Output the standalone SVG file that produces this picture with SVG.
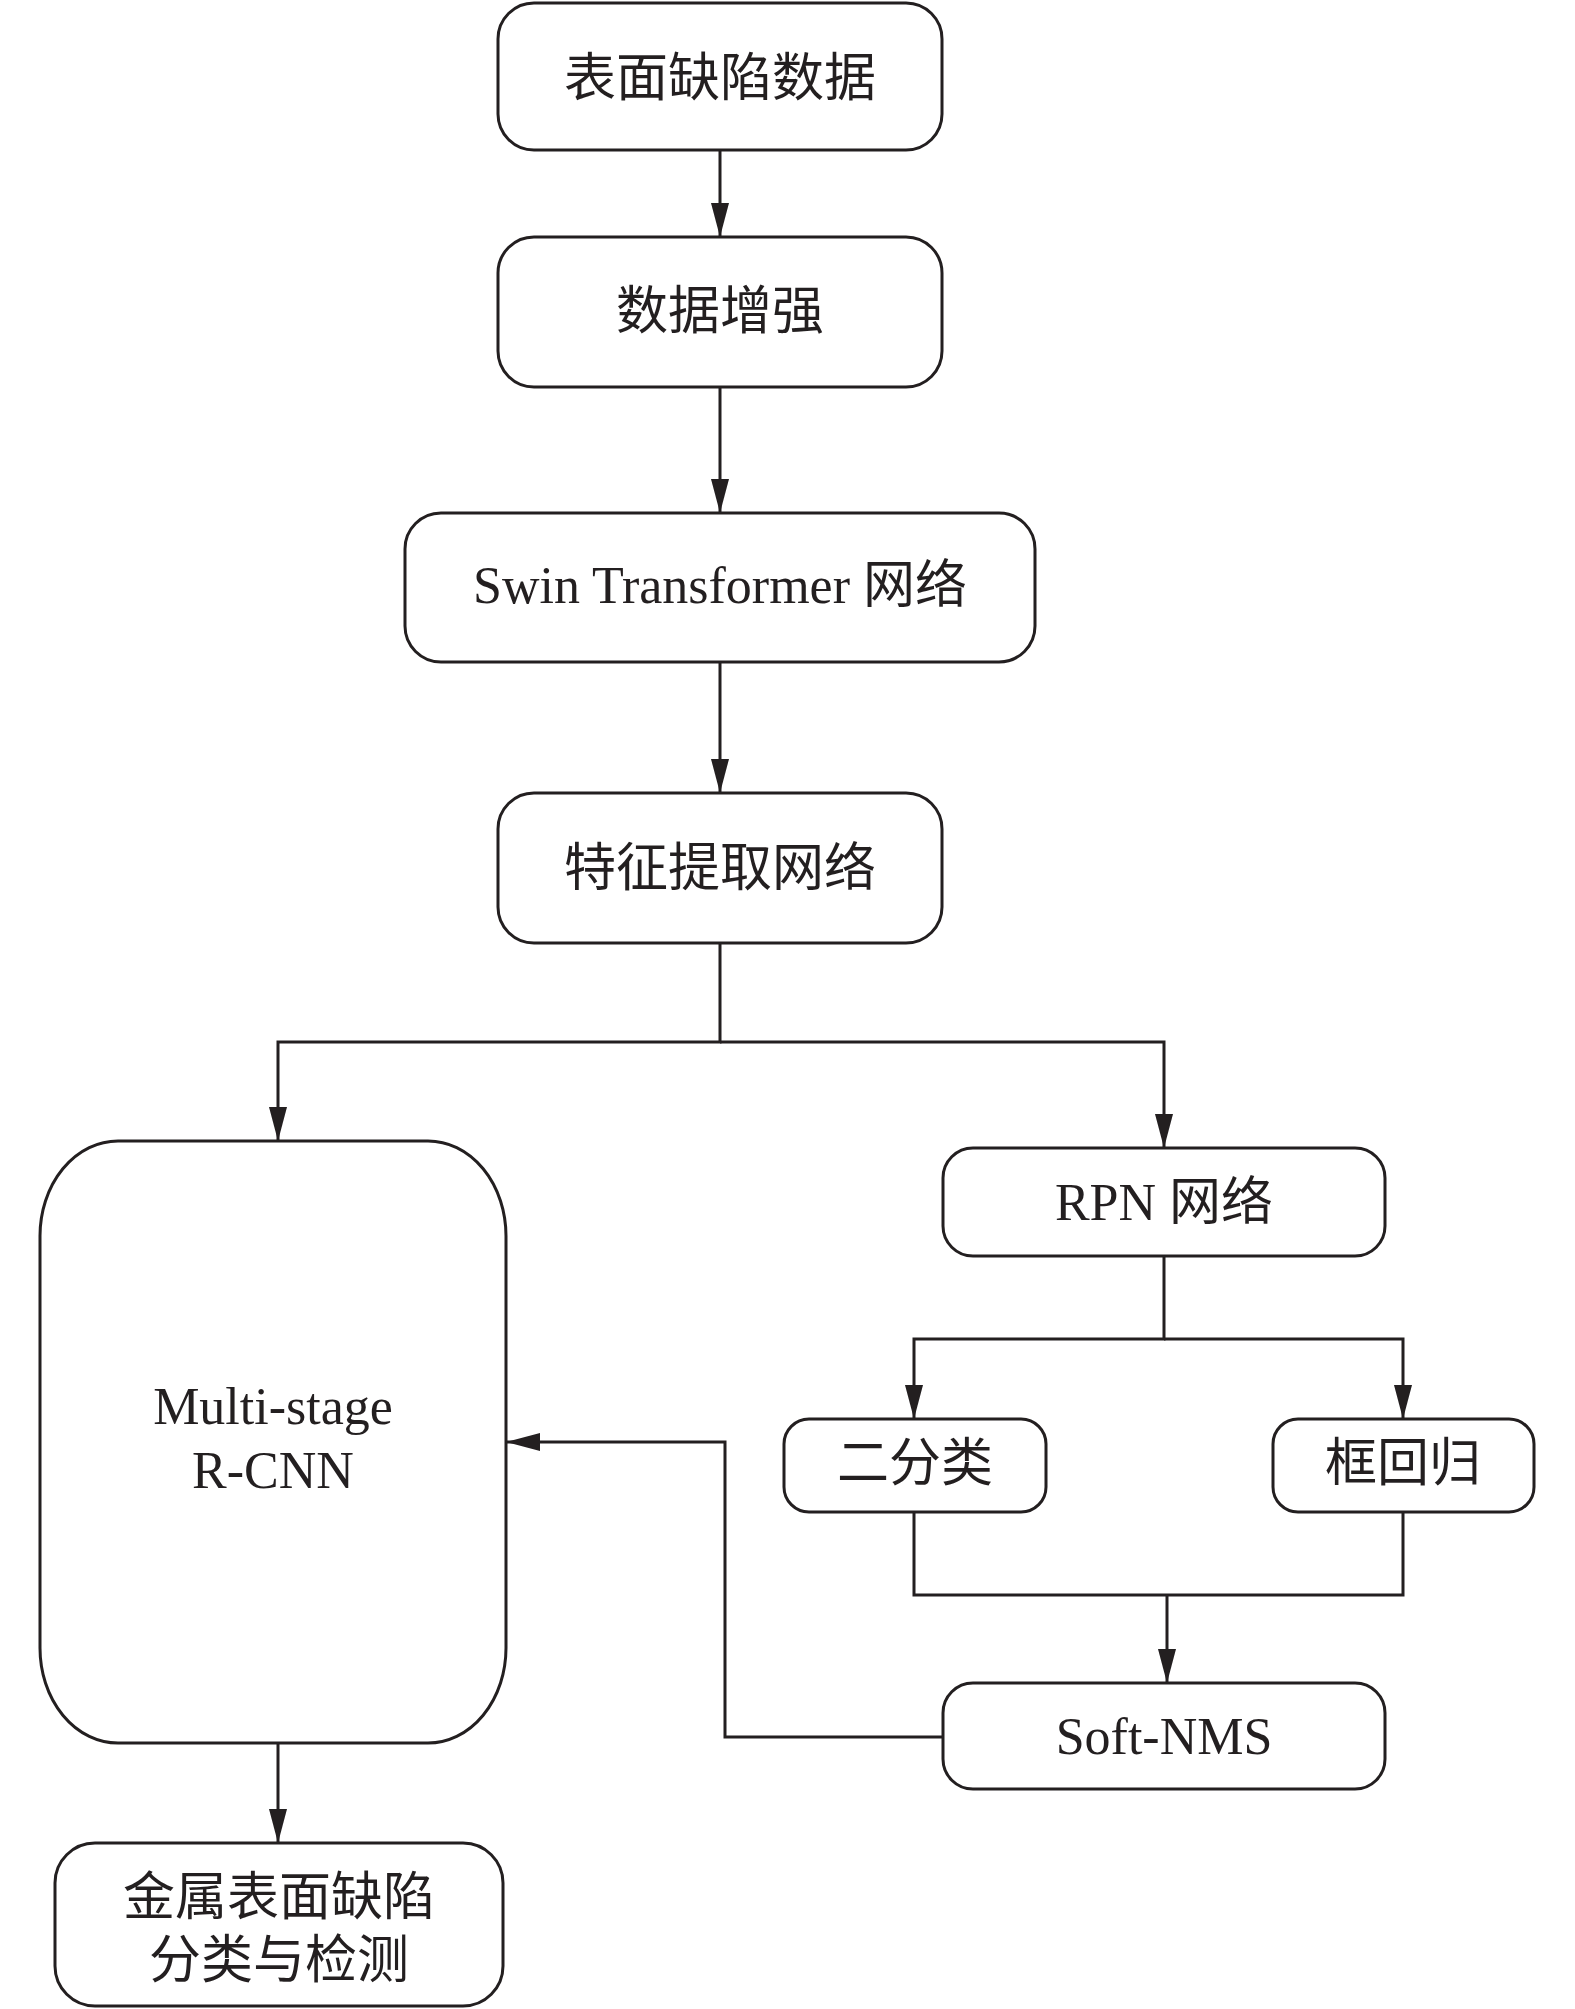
<svg xmlns="http://www.w3.org/2000/svg" width="1575" height="2009" viewBox="0 0 1575 2009">
<style>
.box{fill:#fff;stroke:#231f20;stroke-width:3}
.conn{fill:none;stroke:#231f20;stroke-width:3}
text{font-family:"Liberation Serif","Noto Sans CJK SC",serif;font-size:52px;fill:#231f20;text-anchor:middle}
</style>
<defs>
<marker id="arr" viewBox="0 0 34 18" refX="34" refY="9" markerWidth="34" markerHeight="18" markerUnits="userSpaceOnUse" orient="auto">
<path d="M0,0 L34,9 L0,18 Z" fill="#231f20"/>
</marker>
</defs>
<rect width="1575" height="2009" fill="#fff"/>
<g id="connectors">
<path class="conn" d="M720,150 V237" marker-end="url(#arr)"/>
<path class="conn" d="M720,387 V513" marker-end="url(#arr)"/>
<path class="conn" d="M720,662 V793" marker-end="url(#arr)"/>
<path class="conn" d="M720,943 V1042 H278 V1141" marker-end="url(#arr)"/>
<path class="conn" d="M720,1042 H1164 V1148" marker-end="url(#arr)"/>
<path class="conn" d="M1164,1256 V1339 H914 V1419" marker-end="url(#arr)"/>
<path class="conn" d="M1164,1339 H1403 V1419" marker-end="url(#arr)"/>
<path class="conn" d="M914,1512 V1595 H1403 V1512"/>
<path class="conn" d="M1167,1595 V1683" marker-end="url(#arr)"/>
<path class="conn" d="M943,1737 H725 V1442 H506" marker-end="url(#arr)"/>
<path class="conn" d="M278,1743 V1843" marker-end="url(#arr)"/>
</g>
<g id="n1"><rect class="box" x="498" y="3" width="444" height="147" rx="36"/><text x="720" y="96">表面缺陷数据</text></g>
<g id="n2"><rect class="box" x="498" y="237" width="444" height="150" rx="36"/><text x="720" y="329">数据增强</text></g>
<g id="n3"><rect class="box" x="405" y="513" width="630" height="149" rx="36"/><text x="720" y="603">Swin Transformer 网络</text></g>
<g id="n4"><rect class="box" x="498" y="793" width="444" height="150" rx="36"/><text x="720" y="886">特征提取网络</text></g>
<g id="n5"><rect class="box" x="40" y="1141" width="466" height="602" rx="78" ry="95"/><text x="273" y="1424">Multi-stage</text><text x="273" y="1488">R-CNN</text></g>
<g id="n6"><rect class="box" x="943" y="1148" width="442" height="108" rx="30"/><text x="1164" y="1220">RPN 网络</text></g>
<g id="n7"><rect class="box" x="784" y="1419" width="262" height="93" rx="25"/><text x="915" y="1481">二分类</text></g>
<g id="n8"><rect class="box" x="1273" y="1419" width="261" height="93" rx="25"/><text x="1403" y="1481">框回归</text></g>
<g id="n9"><rect class="box" x="943" y="1683" width="442" height="106" rx="30"/><text x="1164" y="1754">Soft-NMS</text></g>
<g id="n10"><rect class="box" x="55" y="1843" width="448" height="163" rx="40"/><text x="279" y="1915">金属表面缺陷</text><text x="279" y="1978">分类与检测</text></g>
</svg>
